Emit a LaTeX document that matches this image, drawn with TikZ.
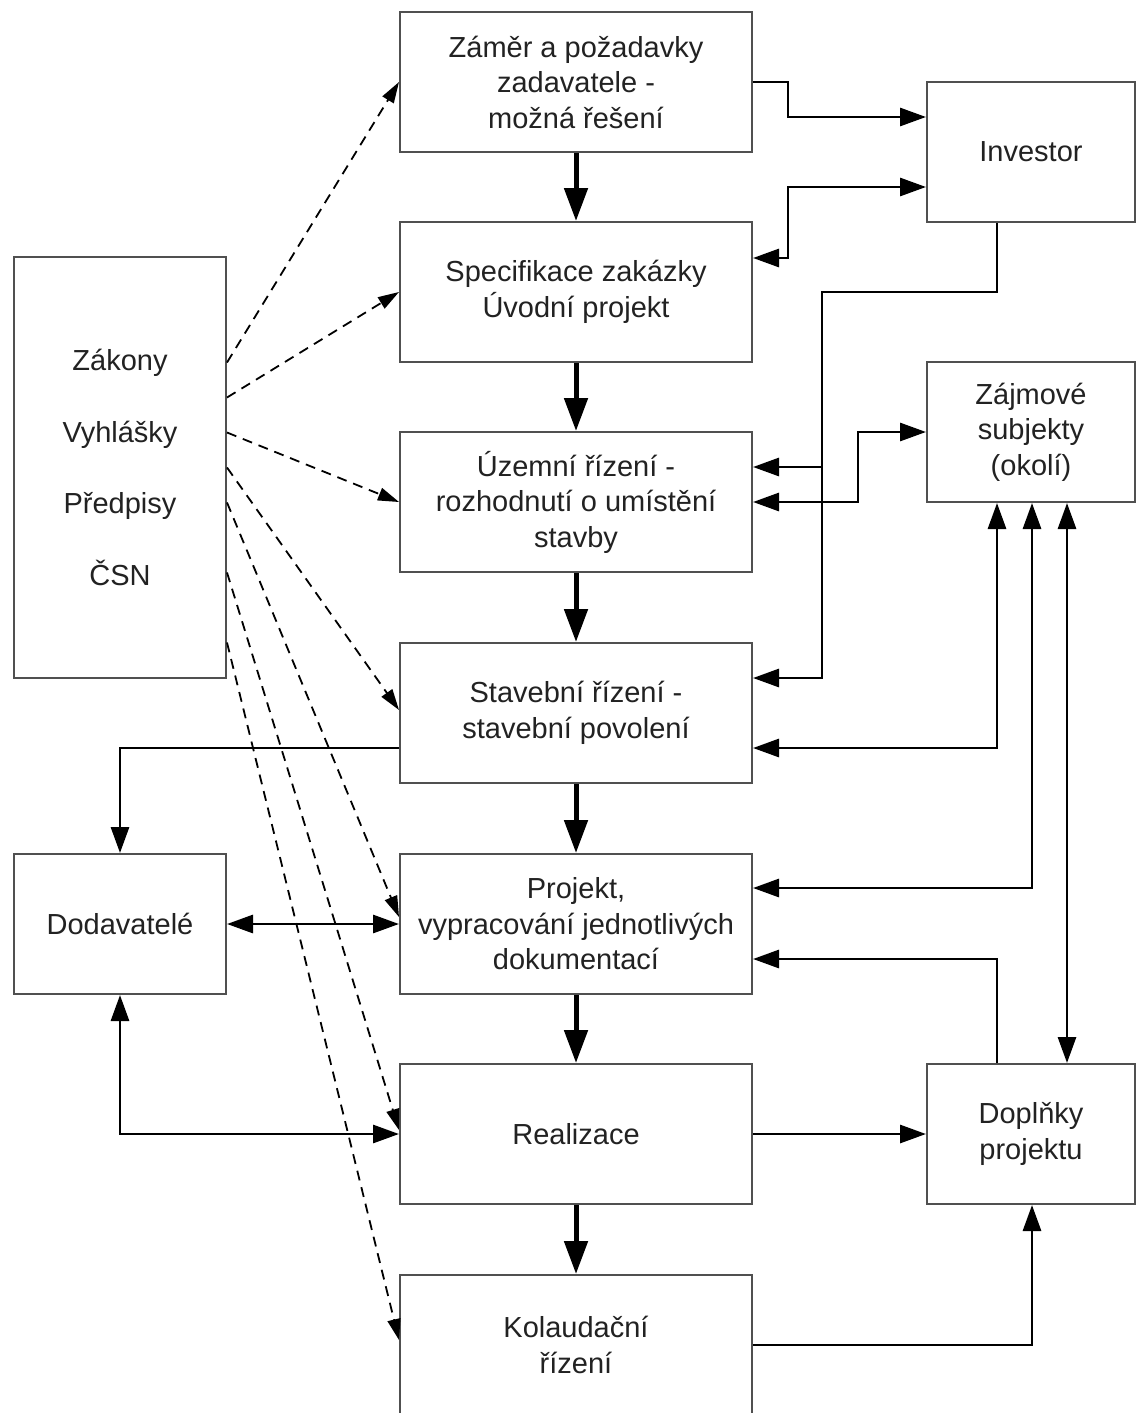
\documentclass[tikz,border=0pt]{standalone}
\usepackage{fontspec}
\setmainfont{Liberation Sans}
\usetikzlibrary{arrows.meta}
\definecolor{boxgray}{HTML}{505050}
\definecolor{textgray}{HTML}{222222}
\begin{document}
\begin{tikzpicture}[x=1pt,y=-1pt,
  box/.style={draw=boxgray, line width=2pt, fill=white, minimum width=352pt,
    minimum height=140pt, inner sep=0pt, align=center,
    font=\fontsize{29}{35.5}\selectfont, text=textgray},
  sidebox/.style={box, minimum width=210pt},
  main/.style={line width=5pt, -{Triangle[length=33pt,width=23pt]}},
  arr/.style={line width=2.9pt, -{Triangle[length=26pt,width=18pt]}},
  darr/.style={line width=2.9pt, {Triangle[length=26pt,width=18pt]}-{Triangle[length=26pt,width=18pt]}},
  dsh/.style={line width=1.8pt, dash pattern=on 10pt off 7pt, -{Triangle[length=21pt,width=13pt]}}]
\useasboundingbox (0,0) rectangle (1136,1413);

% main column
\node[box] (Z)    at (576,82)   {Záměr a požadavky\\zadavatele -\\možná řešení};
\node[box] (Spec) at (576,292)  {Specifikace zakázky\\Úvodní projekt};
\node[box] (Uz)   at (576,502)  {Územní řízení -\\rozhodnutí o umístění\\stavby};
\node[box] (Stav) at (576,713)  {Stavební řízení -\\stavební povolení};
\node[box] (Proj) at (576,924)  {Projekt,\\vypracování jednotlivých\\dokumentací};
\node[box] (Real) at (576,1134) {Realizace};
\node[box] (Kol)  at (576,1345) {Kolaudační\\řízení};

% right column
\node[sidebox, minimum width=208pt] (Inv) at (1031,152)  {Investor};
\node[sidebox, minimum width=208pt] (Zaj) at (1031,432)  {Zájmové\\subjekty\\(okolí)};
\node[sidebox, minimum width=208pt] (Dop) at (1031,1134) {Doplňky\\projektu};

% left column
\node[sidebox, minimum width=212pt, minimum height=421pt] (Zak) at (120,467.5)
  {Zákony\\[36pt]Vyhlášky\\[36pt]Předpisy\\[36pt]ČSN};
\node[sidebox, minimum width=212pt] (Dod) at (120,924) {Dodavatelé};

% main flow
\draw[main] (Z.south) -- (Spec.north);
\draw[main] (Spec.south) -- (Uz.north);
\draw[main] (Uz.south) -- (Stav.north);
\draw[main] (Stav.south) -- (Proj.north);
\draw[main] (Proj.south) -- (Real.north);
\draw[main] (Real.south) -- (Kol.north);

% investor links
\draw[arr] (Z.east) -- ++(35,0) |- ([yshift=35pt]Inv.west);
\draw[darr] ([yshift=34pt]Spec.east) -- ++(35,0) |- ([yshift=-35pt]Inv.west);
\coordinate (bus) at (822,292);
\draw[arr] ([xshift=-34pt]Inv.south) |- (bus) |- ([yshift=35pt]Stav.east);
\coordinate (u1) at ([yshift=35pt]Uz.east);
\draw[arr] (bus |- u1) -- (u1);

% zájmové subjekty links
\draw[darr] (Uz.east) -- ++(105,0) |- (Zaj.west);
\draw[darr] ([xshift=-34pt]Zaj.south) |- ([yshift=-35pt]Stav.east);
\draw[darr] ([xshift=1pt]Zaj.south) |- ([yshift=36pt]Proj.east);
\draw[darr] ([xshift=36pt]Zaj.south) -- ([xshift=36pt]Dop.north);

% doplňky links
\draw[arr] ([xshift=-34pt]Dop.north) |- ([yshift=-35pt]Proj.east);
\draw[arr] (Real.east) -- (Dop.west);
\draw[arr] (Kol.east) -| ([xshift=1pt]Dop.south);

% dodavatelé links
\draw[arr] ([yshift=-35pt]Stav.west) -| (Dod.north);
\draw[darr] (Dod.east) -- (Proj.west);
\draw[darr] (Dod.south) |- (Real.west);

% dashed links from Zákony
\draw[dsh] ([yshift=105pt]Zak.east) -- (Z.west);
\draw[dsh] ([yshift=70pt]Zak.east) -- (Spec.west);
\draw[dsh] ([yshift=35pt]Zak.east) -- (Uz.west);
\draw[dsh] (Zak.east) -- ([yshift=3pt]Stav.west);
\draw[dsh] ([yshift=-35pt]Zak.east) -- ([yshift=7pt]Proj.west);
\draw[dsh] ([yshift=-105pt]Zak.east) -- ([yshift=4pt]Real.west);
\draw[dsh] ([yshift=-175pt]Zak.east) -- ([yshift=5pt]Kol.west);
\end{tikzpicture}
\end{document}
